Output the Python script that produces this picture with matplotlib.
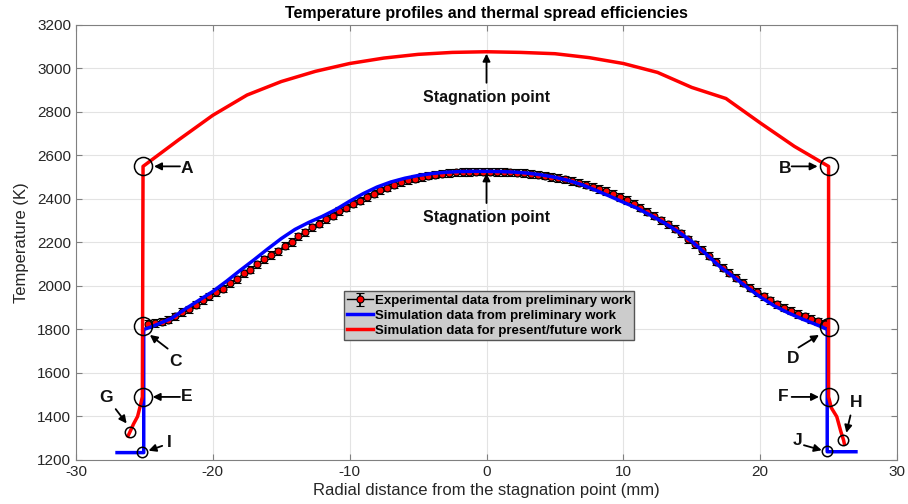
import numpy as np
import matplotlib
matplotlib.use("Agg")
import matplotlib.pyplot as plt

plt.rcParams['font.family'] = ['Liberation Sans', 'DejaVu Sans']
plt.rcParams['axes.unicode_minus'] = False

# experimental data (preliminary work), radial position in mm and temperature in K
exp_x = [-24.75, -24.25, -23.75, -23.25, -22.75, -22.25, -21.75, -21.25, -20.75, -20.25,
         -19.75, -19.25, -18.75, -18.25, -17.75, -17.25, -16.75, -16.25, -15.75, -15.25,
         -14.75, -14.25, -13.75, -13.25, -12.75, -12.25, -11.75, -11.25, -10.75, -10.25,
         -9.75, -9.25, -8.75, -8.25, -7.75, -7.25, -6.75, -6.25, -5.75, -5.25,
         -4.75, -4.25, -3.75, -3.25, -2.75, -2.25, -1.75, -1.25, -0.75, -0.25,
         0.25, 0.75, 1.25, 1.75, 2.25, 2.75, 3.25, 3.75, 4.25, 4.75,
         5.25, 5.75, 6.25, 6.75, 7.25, 7.75, 8.25, 8.75, 9.25, 9.75,
         10.25, 10.75, 11.25, 11.75, 12.25, 12.75, 13.25, 13.75, 14.25, 14.75,
         15.25, 15.75, 16.25, 16.75, 17.25, 17.75, 18.25, 18.75, 19.25, 19.75,
         20.25, 20.75, 21.25, 21.75, 22.25, 22.75, 23.25, 23.75, 24.25, 24.75]
exp_T = [1825, 1830, 1836, 1845, 1860, 1880, 1893, 1914, 1935, 1952,
         1972, 1988, 2012, 2030, 2058, 2075, 2100, 2122, 2142, 2160,
         2185, 2202, 2228, 2246, 2270, 2286, 2308, 2323, 2345, 2360,
         2378, 2393, 2410, 2425, 2440, 2452, 2466, 2476, 2486, 2494,
         2501, 2507, 2512, 2516, 2519, 2522, 2524, 2525, 2526, 2526,
         2526, 2525, 2525, 2523, 2521, 2519, 2515, 2512, 2507, 2502,
         2497, 2490, 2483, 2475, 2466, 2457, 2446, 2436, 2425, 2410,
         2395, 2378, 2360, 2342, 2323, 2302, 2284, 2263, 2242, 2214,
         2192, 2166, 2140, 2112, 2084, 2062, 2038, 2016, 1992, 1973,
         1952, 1934, 1916, 1901, 1886, 1872, 1860, 1848, 1838, 1826]
exp_err = 17

# simulation from preliminary work
blue_x = [-27.0, -25.05, -25.05, -24.5, -24, -23, -22, -21, -20, -19, -18, -17, -16, -15,
          -14, -13, -12, -11, -10, -9, -8, -7, -6, -5, -4, -3, -2, -1, 0,
          1, 2, 3, 4, 5, 6, 7, 8, 9, 10, 11, 12, 13, 14, 15, 16, 17, 18, 19, 20,
          21, 22, 23, 24, 24.5, 24.9, 24.9, 27.0]
blue_T = [1234, 1234, 1800, 1812, 1825, 1852, 1895, 1935, 1975, 2022, 2072, 2120, 2170, 2218,
          2260, 2292, 2320, 2352, 2390, 2425, 2455, 2478, 2495, 2508, 2517, 2523, 2526, 2527, 2527,
          2526, 2524, 2519, 2511, 2500, 2485, 2465, 2440, 2413, 2385, 2358, 2325, 2290, 2250, 2205,
          2150, 2092, 2045, 1996, 1950, 1910, 1878, 1850, 1825, 1812, 1800, 1238, 1238]

# simulation for present/future work
red_x = [-26.2, -26.05, -25.8, -25.5, -25.3, -25.15, -25.1, -22.5, -20, -17.5, -15, -12.5, -10,
         -7.5, -5, -2.5, 0, 2.5, 5, 7.5, 10, 12.5, 15, 17.5, 20, 22.5, 25.0,
         25.0, 25.2, 25.6, 25.9, 26.1, 26.15]
red_T = [1310, 1330, 1365, 1400, 1450, 1490, 2550, 2672, 2785, 2878, 2940, 2987, 3023,
         3048, 3065, 3074, 3077, 3074, 3068, 3050, 3023, 2982, 2913, 2862, 2750, 2642, 2550,
         1490, 1440, 1399, 1330, 1290, 1275]

# marked points: circle position, label position, arrow start and end
big_pts = {'A': (-25.1, 2550), 'B': (25.0, 2552), 'C': (-25.1, 1818), 'D': (25.0, 1812),
           'E': (-25.1, 1490), 'F': (25.0, 1490)}
small_pts = {'G': (-26.05, 1330), 'H': (26.08, 1292), 'I': (-25.15, 1237), 'J': (24.9, 1240)}
label_pos = {'A': (-21.9, 2540), 'B': (21.8, 2540), 'C': (-22.7, 1655), 'D': (22.4, 1665),
             'E': (-21.9, 1490), 'F': (21.7, 1490), 'G': (-27.8, 1488), 'H': (27.0, 1465),
             'I': (-23.2, 1280), 'J': (22.7, 1290)}
arrow_start = {'A': (-22.4, 2550), 'B': (22.3, 2550), 'C': (-23.3, 1712), 'D': (22.8, 1717),
               'E': (-22.4, 1490), 'F': (22.3, 1490), 'G': (-27.1, 1434), 'H': (26.6, 1405),
               'I': (-23.7, 1265), 'J': (23.2, 1268)}
arrow_end = {'A': (-24.3, 2550), 'B': (24.2, 2550), 'C': (-24.6, 1775), 'D': (24.3, 1775),
             'E': (-24.4, 1490), 'F': (24.3, 1490), 'G': (-26.3, 1368), 'H': (26.3, 1325),
             'I': (-24.7, 1243), 'J': (24.5, 1245)}

fig = plt.figure(figsize=(9.08, 5.04), dpi=100)
ax = fig.add_axes([76/908, 44/504, 821/908, 435/504])

h_exp = ax.errorbar(exp_x, exp_T, yerr=exp_err, fmt='-o', color='k', lw=1, ms=5,
                    mfc='red', mec='k', mew=0.8, capsize=3, elinewidth=1.3, capthick=1.3,
                    label='Experimental data from preliminary work', zorder=3)
h_blue, = ax.plot(blue_x, blue_T, color='blue', lw=2.5,
                  label='Simulation data from preliminary work', zorder=4)
h_red, = ax.plot(red_x, red_T, color='red', lw=2.5,
                 label='Simulation data for present/future work', zorder=5)

for k, (px, py) in big_pts.items():
    ax.plot(px, py, 'o', mfc='none', mec='k', ms=13, mew=1.1, zorder=6)
for k, (px, py) in small_pts.items():
    ax.plot(px, py, 'o', mfc='none', mec='k', ms=7.5, mew=1.1, zorder=6)
for k in label_pos:
    ax.annotate('', xy=arrow_end[k], xytext=arrow_start[k],
                arrowprops=dict(arrowstyle='-|>', color='k', lw=1.3, mutation_scale=11,
                                shrinkA=0, shrinkB=0), zorder=7)
    ax.text(label_pos[k][0], label_pos[k][1], k, fontsize=12.5, fontweight='bold',
            ha='center', va='center', color='#111111')

# stagnation point notes
ax.annotate('Stagnation point', xy=(0, 3068), xytext=(0, 2868), ha='center', va='center',
            fontsize=11.5, fontweight='bold', color='#111111',
            arrowprops=dict(arrowstyle='-|>', color='k', lw=1.3, mutation_scale=11,
                            shrinkA=3, shrinkB=0))
ax.annotate('Stagnation point', xy=(0, 2518), xytext=(0, 2315), ha='center', va='center',
            fontsize=11.5, fontweight='bold', color='#111111',
            arrowprops=dict(arrowstyle='-|>', color='k', lw=1.3, mutation_scale=11,
                            shrinkA=3, shrinkB=0))

ax.set_xlim(-30, 30)
ax.set_ylim(1200, 3200)
ax.set_xticks(np.arange(-30, 31, 10))
ax.set_yticks(np.arange(1200, 3201, 200))
ax.grid(True, color='#e3e3e3', lw=0.8)
ax.set_axisbelow(True)
ax.tick_params(direction='in', length=4, top=True, right=True, labelsize=11,
               color='#808080', labelcolor='#262626')
for s in ax.spines.values():
    s.set_color('#808080')
ax.set_xlabel('Radial distance from the stagnation point (mm)', fontsize=12, color='#262626',
              labelpad=3)
ax.set_ylabel('Temperature (K)', fontsize=12, color='#262626', labelpad=6)
ax.set_title('Temperature profiles and thermal spread efficiencies', fontsize=11.5,
             fontweight='bold', pad=5)

leg = ax.legend(handles=[h_exp, h_blue, h_red], loc='center', bbox_to_anchor=(0.503, 0.332),
                prop={'weight': 'bold', 'size': 9.5}, fancybox=False, framealpha=1,
                handlelength=2.0, handletextpad=0.1, borderpad=0.25, labelspacing=0.2,
                borderaxespad=0)
leg.get_frame().set_facecolor('#cccccc')
leg.get_frame().set_edgecolor('#555555')

fig.savefig('out.png', dpi=100)
